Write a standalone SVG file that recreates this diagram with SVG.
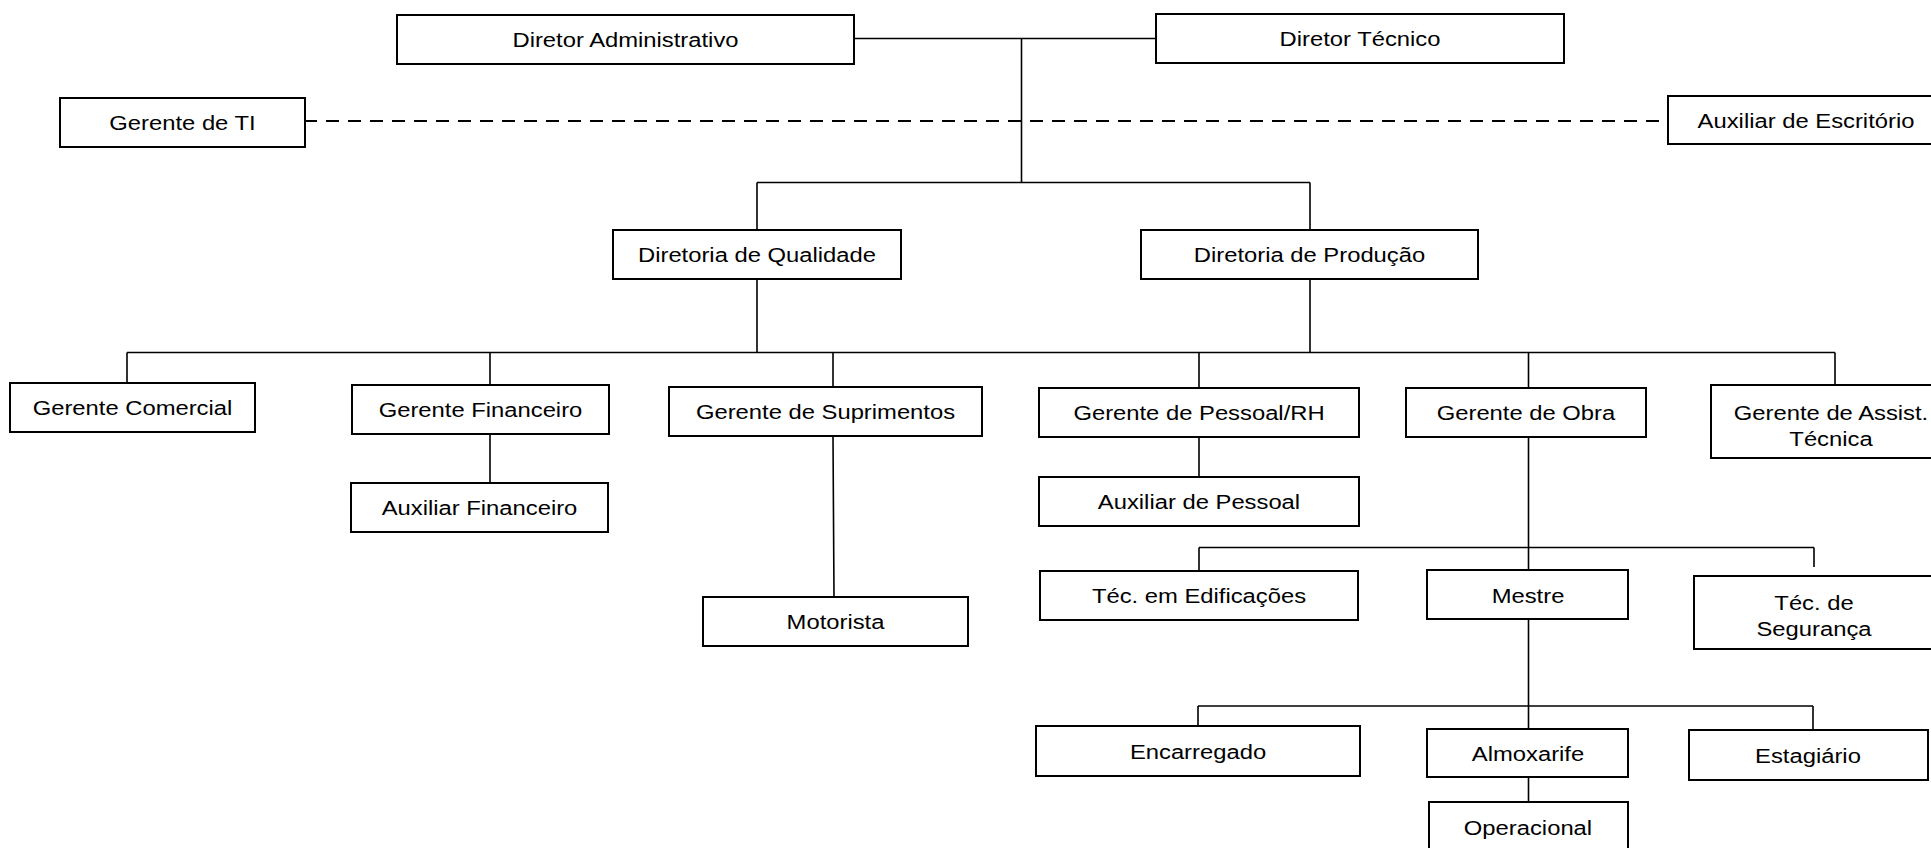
<svg xmlns="http://www.w3.org/2000/svg" width="1931" height="848" viewBox="0 0 1931 848">
<style>
.box{fill:#fff;stroke:#000;stroke-width:2}
.t{font-family:"Liberation Sans",Arial,sans-serif;font-size:20px;fill:#000;text-anchor:middle}
.ln{fill:none;stroke:#000;stroke-width:1.6}
.dash{fill:none;stroke:#000;stroke-width:2;stroke-dasharray:13 9}
</style>
<rect width="1931" height="848" fill="#fff"/>
<g id="connectors">
<path class="ln" d="M854 38.5H1156M1021.5 38.5V182.5M757 182.5H1310M757 182.5V230M1310 182.5V230"/>
<path class="dash" d="M304 121H1668"/>
<path class="ln" d="M757 279V352.5M1310 279V352.5M127 352.5H1835M127 352.5V383M490 352.5V385M833 352.5V387M1199 352.5V388M1528.5 352.5V388M1835 352.5V385"/>
<path class="ln" d="M490 435V483M833 436L834 597M1199 437V477"/>
<path class="ln" d="M1528.5 437V570M1199 547.5H1814M1199 547.5V571M1814 547.5V567"/>
<path class="ln" d="M1528.5 619V729M1198 706H1813M1198 706V726M1813 706V730M1528.5 777V802"/>
</g>
<g id="dir_admin"><rect class="box" x="397" y="15" width="457" height="49"/><text class="t" transform="translate(625.5,47) scale(1.19,1)">Diretor Administrativo</text></g>
<g id="dir_tecnico"><rect class="box" x="1156" y="14" width="408" height="49"/><text class="t" transform="translate(1360,46) scale(1.19,1)">Diretor Técnico</text></g>
<g id="gerente_ti"><rect class="box" x="60" y="98" width="245" height="49"/><text class="t" transform="translate(182.5,130) scale(1.19,1)">Gerente de TI</text></g>
<g id="aux_escritorio"><rect class="box" x="1668" y="96" width="278" height="48"/><text class="t" transform="translate(1806,127.5) scale(1.19,1)">Auxiliar de Escritório</text></g>
<g id="dir_qualidade"><rect class="box" x="613" y="230" width="288" height="49"/><text class="t" transform="translate(757,262) scale(1.19,1)">Diretoria de Qualidade</text></g>
<g id="dir_producao"><rect class="box" x="1141" y="230" width="337" height="49"/><text class="t" transform="translate(1309.5,262) scale(1.19,1)">Diretoria de Produção</text></g>
<g id="ger_comercial"><rect class="box" x="10" y="383" width="245" height="49"/><text class="t" transform="translate(132.5,415) scale(1.19,1)">Gerente Comercial</text></g>
<g id="ger_financeiro"><rect class="box" x="352" y="385" width="257" height="49"/><text class="t" transform="translate(480.5,417) scale(1.19,1)">Gerente Financeiro</text></g>
<g id="aux_financeiro"><rect class="box" x="351" y="483" width="257" height="49"/><text class="t" transform="translate(479.5,515) scale(1.19,1)">Auxiliar Financeiro</text></g>
<g id="ger_suprimentos"><rect class="box" x="669" y="387" width="313" height="49"/><text class="t" transform="translate(825.5,419) scale(1.19,1)">Gerente de Suprimentos</text></g>
<g id="motorista"><rect class="box" x="703" y="597" width="265" height="49"/><text class="t" transform="translate(835.5,629) scale(1.19,1)">Motorista</text></g>
<g id="ger_pessoal"><rect class="box" x="1039" y="388" width="320" height="49"/><text class="t" transform="translate(1199,420) scale(1.19,1)">Gerente de Pessoal/RH</text></g>
<g id="aux_pessoal"><rect class="box" x="1039" y="477" width="320" height="49"/><text class="t" transform="translate(1199,509) scale(1.19,1)">Auxiliar de Pessoal</text></g>
<g id="ger_obra"><rect class="box" x="1406" y="388" width="240" height="49"/><text class="t" transform="translate(1526,420) scale(1.19,1)">Gerente de Obra</text></g>
<g id="ger_assist"><rect class="box" x="1711" y="385" width="240" height="73"/><text class="t" transform="translate(1831,420) scale(1.19,1)">Gerente de Assist.</text><text class="t" transform="translate(1831,446) scale(1.19,1)">Técnica</text></g>
<g id="tec_edificacoes"><rect class="box" x="1040" y="571" width="318" height="49"/><text class="t" transform="translate(1199,603) scale(1.19,1)">Téc. em Edificações</text></g>
<g id="mestre"><rect class="box" x="1427" y="570" width="201" height="49"/><text class="t" transform="translate(1528,603) scale(1.19,1)">Mestre</text></g>
<g id="tec_seguranca"><rect class="box" x="1694" y="576" width="240" height="73"/><text class="t" transform="translate(1814,610) scale(1.19,1)">Téc. de</text><text class="t" transform="translate(1814,636) scale(1.19,1)">Segurança</text></g>
<g id="encarregado"><rect class="box" x="1036" y="726" width="324" height="50"/><text class="t" transform="translate(1198,758.5) scale(1.19,1)">Encarregado</text></g>
<g id="almoxarife"><rect class="box" x="1427" y="729" width="201" height="48"/><text class="t" transform="translate(1528,760.5) scale(1.19,1)">Almoxarife</text></g>
<g id="estagiario"><rect class="box" x="1689" y="730" width="239" height="50"/><text class="t" transform="translate(1808,762.5) scale(1.19,1)">Estagiário</text></g>
<g id="operacional"><rect class="box" x="1429" y="802" width="199" height="49"/><text class="t" transform="translate(1528,834.5) scale(1.19,1)">Operacional</text></g>
</svg>
